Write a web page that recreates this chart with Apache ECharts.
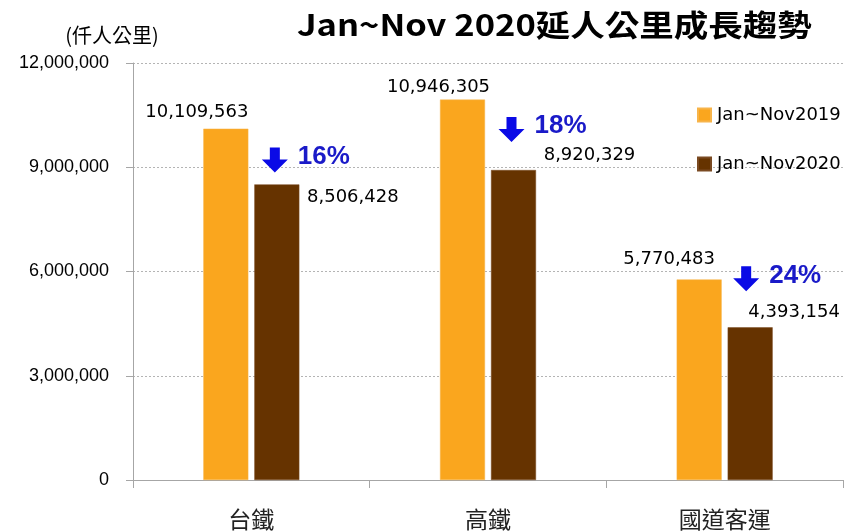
<!DOCTYPE html>
<html>
<head>
<meta charset="utf-8">
<script src="https://cdn.jsdelivr.net/npm/echarts@6/dist/echarts.min.js"></script>
<style>
html,body{margin:0;padding:0;background:#fff;}
#chart{width:848px;height:531px;}
</style>
</head>
<body>
<div id="chart"></div>
<script>
// ---- data ----
const categories = ['台鐵', '高鐵', '國道客運'];
const seriesNames = ['Jan~Nov2019', 'Jan~Nov2020'];
const values2019 = [10109563, 10946305, 5770483];
const values2020 = [8506428, 8920329, 4393154];
const declinePct = [16, 18, 24];
const yTicks = [0, 3000000, 6000000, 9000000, 12000000];
const titleText = 'Jan~Nov 2020延人公里成長趨勢';
const unitText = '(仟人公里)';

// ---- styles (positions relative to bars) ----
const labelOff2019 = [[-29, -16], [-24, -12], [-30, -20]];
const labelOff2020 = [[76, 13], [76, -15], [44, -15]];
const arrowOff = [[-2, -12], [-2, -28], [-4, -36]];
const BAR_W = 45, BAR_GAP = 6;
const BROWN_SHIFT = (BAR_W + BAR_GAP) / 2;

const fmt = v => Number(v).toLocaleString('en-US');
const labelFont = { fontFamily: 'DejaVu Sans', fontSize: 18, color: '#000' };

function mkData(vals, offs) {
  return vals.map((v, i) => ({
    value: v,
    label: {
      show: true, position: ['50%', 0], align: 'center', verticalAlign: 'middle',
      offset: offs[i], formatter: p => fmt(p.value), ...labelFont
    }
  }));
}

const chart = echarts.init(document.getElementById('chart'), null, { renderer: 'canvas' });
chart.setOption({
  animation: false,
  backgroundColor: '#fff',
  graphic: [{
    type: 'text', x: 297, y: 10, scaleX: 1.15,
    style: { text: titleText, font: 'bold 30px "Noto Sans CJK TC"', fill: '#000', verticalAlign: 'top' }
  }],
  legend: {
    orient: 'vertical', left: 697, top: 106, padding: 0, itemWidth: 13, itemHeight: 13, itemGap: 31,
    icon: 'rect', data: seriesNames,
    textStyle: { fontFamily: 'DejaVu Sans', fontSize: 18, color: '#000', padding: [0, 0, 0, 1] }
  },
  grid: { left: 133, right: 5, top: 63, bottom: 51 },
  xAxis: {
    type: 'category', data: categories,
    axisLine: { lineStyle: { color: '#a6a6a6', width: 1 } },
    axisTick: { show: true, length: 8, lineStyle: { color: '#a6a6a6' } },
    axisLabel: { margin: 28, fontFamily: 'Noto Sans CJK TC', fontSize: 23, color: '#222' }
  },
  yAxis: {
    type: 'value', min: yTicks[0], max: yTicks[yTicks.length - 1], interval: yTicks[1] - yTicks[0],
    name: unitText, nameLocation: 'end', nameGap: 18,
    nameTextStyle: { fontFamily: 'Noto Sans CJK TC', fontSize: 20, color: '#000', align: 'center', padding: [0, 42, 0, 0] },
    axisLine: { show: true, lineStyle: { color: '#a6a6a6' } },
    axisTick: { show: true, length: 7, lineStyle: { color: '#a6a6a6' } },
    axisLabel: { margin: 24, fontFamily: 'Liberation Sans', fontSize: 18, color: '#000', formatter: v => fmt(v) },
    splitLine: { show: true, lineStyle: { color: '#b4b4b4', type: [2, 2] } }
  },
  series: [
    {
      name: seriesNames[0], type: 'bar', barWidth: BAR_W, barGap: (BAR_GAP / BAR_W * 100) + '%',
      itemStyle: { color: '#FAA61E', borderColor: '#f7b44a', borderWidth: 0.5 },
      data: mkData(values2019, labelOff2019)
    },
    {
      name: seriesNames[1], type: 'bar', barWidth: BAR_W,
      itemStyle: { color: '#663300', borderColor: '#7a4a22', borderWidth: 0.5 },
      data: mkData(values2020, labelOff2020)
    },
    {
      type: 'custom', coordinateSystem: 'cartesian2d', silent: true, z: 10,
      encode: { x: 0, y: 1 },
      data: categories.map((c, i) => [i, values2020[i], declinePct[i]]),
      renderItem: function (params, api) {
        const i = params.dataIndex;
        const pt = api.coord([api.value(0), api.value(1)]);
        const cx = pt[0] + BROWN_SHIFT + arrowOff[i][0];
        const by = pt[1] + arrowOff[i][1];
        return {
          type: 'group',
          children: [
            {
              type: 'polygon',
              shape: { points: [[cx - 5, by - 25], [cx + 5, by - 25], [cx + 5, by - 13], [cx + 13, by - 13], [cx, by], [cx - 13, by - 13], [cx - 5, by - 13]] },
              style: { fill: '#0a0ae6' }
            },
            {
              type: 'text', x: cx + 23, y: by - 16,
              style: { text: api.value(2) + '%', font: 'bold 26px "Liberation Sans"', fill: '#1a1ac8', verticalAlign: 'middle', align: 'left' }
            }
          ]
        };
      }
    }
  ]
});
</script>
</body>
</html>
